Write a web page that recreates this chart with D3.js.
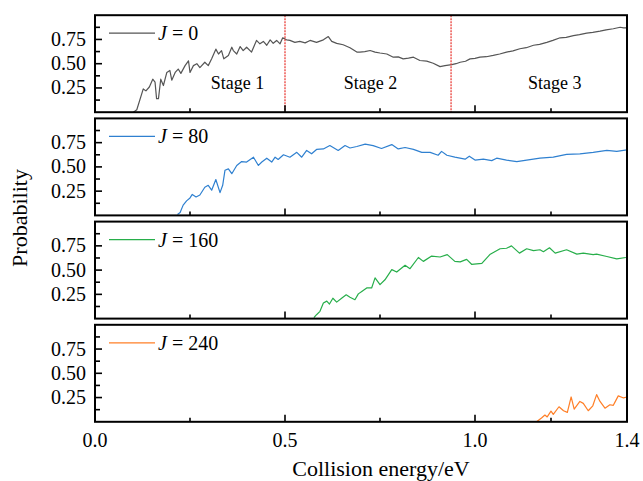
<!DOCTYPE html>
<html><head><meta charset="utf-8">
<script src="https://cdn.jsdelivr.net/npm/d3@7"></script>
<style>body{margin:0;background:#fff}svg{display:block}text{font-family:"Liberation Serif","Times New Roman",serif;fill:#000}</style>
</head><body>
<svg id="c" width="643" height="481"></svg>
<script>
const xTickLabels = [0.0, 0.5, 1.0, 1.4];
const xMinorTicks = [0.25, 0.75, 1.2];
const xMajorTicks = [0.5, 1.0];
const yTickLabels = [0.25, 0.5, 0.75];
const yMinorTicks = [0.125, 0.375, 0.625, 0.875];
const seriesNames = ["J = 0", "J = 80", "J = 160", "J = 240"];
const stageNames = ["Stage 1", "Stage 2", "Stage 3"];
const stageX = [0.375, 0.725, 1.21];
const stageBounds = [0.5, 0.937];

const e0 = [0.101,0.11,0.127,0.134,0.143,0.152,0.158,0.162,0.167,0.173,0.18,0.189,0.197,0.202,0.211,0.219,0.226,0.237,0.246,0.25,0.259,0.268,0.276,0.289,0.298,0.307,0.318,0.325,0.333,0.339,0.351,0.36,0.364,0.373,0.382,0.39,0.399,0.412,0.425,0.434,0.443,0.452,0.461,0.469,0.478,0.487,0.494,0.504,0.513,0.526,0.539,0.553,0.566,0.583,0.601,0.614,0.623,0.636,0.653,0.671,0.689,0.697,0.71,0.724,0.737,0.75,0.768,0.785,0.798,0.811,0.825,0.838,0.855,0.873,0.89,0.908,0.921,0.939,0.95,0.961,0.975,0.987,1.0,1.013,1.03,1.048,1.065,1.083,1.1,1.118,1.135,1.154,1.17,1.189,1.205,1.224,1.24,1.259,1.275,1.294,1.31,1.329,1.345,1.364,1.382,1.391,1.4];
const p0 = [0.0,0.025,0.24,0.22,0.26,0.34,0.31,0.14,0.14,0.34,0.275,0.41,0.43,0.33,0.41,0.445,0.40,0.48,0.53,0.41,0.48,0.50,0.46,0.515,0.48,0.55,0.65,0.60,0.635,0.55,0.585,0.67,0.635,0.60,0.677,0.635,0.67,0.62,0.74,0.705,0.73,0.69,0.745,0.71,0.74,0.705,0.767,0.746,0.74,0.72,0.73,0.715,0.74,0.72,0.746,0.78,0.73,0.71,0.695,0.665,0.62,0.62,0.625,0.636,0.62,0.61,0.60,0.567,0.57,0.55,0.558,0.567,0.533,0.526,0.505,0.47,0.48,0.49,0.50,0.515,0.525,0.55,0.555,0.567,0.572,0.585,0.60,0.62,0.632,0.654,0.665,0.69,0.70,0.72,0.74,0.767,0.772,0.79,0.80,0.815,0.822,0.835,0.848,0.86,0.876,0.87,0.87];

const e80 = [0.217,0.224,0.232,0.241,0.25,0.256,0.266,0.276,0.289,0.298,0.307,0.318,0.329,0.336,0.342,0.351,0.36,0.373,0.386,0.399,0.417,0.43,0.439,0.452,0.465,0.474,0.482,0.496,0.513,0.531,0.544,0.557,0.57,0.583,0.601,0.618,0.64,0.658,0.671,0.689,0.711,0.732,0.754,0.781,0.798,0.816,0.838,0.86,0.882,0.903,0.912,0.926,0.947,0.974,0.985,1.0,1.022,1.044,1.057,1.083,1.11,1.136,1.171,1.206,1.241,1.276,1.311,1.347,1.373,1.4];
const p80 = [0.01,0.03,0.106,0.15,0.18,0.216,0.19,0.21,0.29,0.31,0.26,0.37,0.235,0.31,0.465,0.48,0.43,0.515,0.555,0.55,0.60,0.515,0.55,0.59,0.55,0.60,0.577,0.625,0.60,0.65,0.60,0.67,0.635,0.68,0.685,0.72,0.67,0.72,0.695,0.71,0.735,0.72,0.69,0.73,0.685,0.70,0.68,0.65,0.65,0.62,0.66,0.62,0.60,0.58,0.61,0.57,0.58,0.565,0.59,0.57,0.555,0.57,0.59,0.60,0.63,0.635,0.65,0.67,0.66,0.675];

const e160 = [0.576,0.583,0.592,0.601,0.61,0.617,0.626,0.636,0.649,0.661,0.671,0.684,0.693,0.702,0.715,0.728,0.737,0.75,0.763,0.781,0.794,0.816,0.829,0.851,0.864,0.886,0.908,0.927,0.947,0.961,0.978,0.991,1.018,1.039,1.066,1.083,1.096,1.117,1.136,1.154,1.171,1.18,1.196,1.211,1.241,1.268,1.285,1.311,1.32,1.347,1.373,1.397];
const p160 = [0.01,0.04,0.075,0.16,0.18,0.15,0.21,0.17,0.21,0.245,0.22,0.195,0.255,0.28,0.316,0.316,0.42,0.35,0.40,0.505,0.48,0.55,0.515,0.63,0.59,0.645,0.635,0.66,0.59,0.585,0.61,0.56,0.57,0.66,0.72,0.725,0.75,0.675,0.72,0.70,0.71,0.69,0.73,0.675,0.71,0.665,0.675,0.66,0.665,0.64,0.615,0.63];

const e240 = [1.162,1.175,1.184,1.19,1.2,1.206,1.221,1.233,1.243,1.253,1.261,1.276,1.285,1.298,1.31,1.32,1.329,1.342,1.355,1.364,1.368,1.377,1.391,1.4];
const p240 = [0.0,0.04,0.07,0.05,0.11,0.076,0.155,0.114,0.097,0.256,0.13,0.21,0.19,0.114,0.165,0.28,0.21,0.14,0.176,0.17,0.20,0.267,0.246,0.256];

const colors = ["#555555", "#2f80d0", "#27ae4a", "#ff7f27"];
const seriesE = [e0, e80, e160, e240];
const seriesP = [p0, p80, p160, p240];

const svg = d3.select("#c");
const L = 95, R = 627, H = 97, step = 103.2, firstBottom = 112.2;
const x = d3.scaleLinear().domain([0, 1.4]).range([L, R]);

seriesNames.forEach((name, i) => {
  const bottom = firstBottom + i * step, top = bottom - H;
  const y = d3.scaleLinear().domain([0, 1]).range([bottom, top]);
  const g = svg.append("g");
  const clipId = "clip" + i;
  svg.append("clipPath").attr("id", clipId).append("rect").attr("x", L).attr("y", top).attr("width", R - L).attr("height", H);

  // data line
  const data = seriesE[i].map((e, k) => [e, seriesP[i][k]]);
  g.append("path").datum(data)
    .attr("clip-path", `url(#${clipId})`)
    .attr("fill", "none").attr("stroke", colors[i]).attr("stroke-width", 1.2)
    .attr("stroke-linejoin", "round")
    .attr("d", d3.line().x(d => x(d[0])).y(d => y(d[1])));

  // stage markers on first panel
  if (i === 0) {
    stageBounds.forEach(b => {
      g.append("line").attr("x1", x(b)).attr("x2", x(b)).attr("y1", top).attr("y2", bottom)
        .attr("stroke", "#e8302a").attr("stroke-width", 1.2).attr("stroke-dasharray", "2,1");
    });
    stageNames.forEach((s, k) => {
      g.append("text").attr("x", x(stageX[k])).attr("y", top + 74).attr("text-anchor", "middle")
        .attr("font-size", 18).text(s);
    });
  }

  // frame
  g.append("rect").attr("x", L).attr("y", top).attr("width", R - L).attr("height", H)
    .attr("fill", "none").attr("stroke", "#000").attr("stroke-width", 2);

  // y ticks (inward)
  yTickLabels.forEach(t => {
    g.append("line").attr("x1", L).attr("x2", L + 7).attr("y1", y(t)).attr("y2", y(t)).attr("stroke", "#000").attr("stroke-width", 1.6);
    g.append("text").attr("x", L - 9).attr("y", y(t) + 6.5).attr("text-anchor", "end").attr("font-size", 20).text(d3.format(".2f")(t));
  });
  yMinorTicks.forEach(t => {
    g.append("line").attr("x1", L).attr("x2", L + 5).attr("y1", y(t)).attr("y2", y(t)).attr("stroke", "#000").attr("stroke-width", 1.6);
  });
  // x ticks (inward, bottom)
  xMajorTicks.forEach(t => {
    g.append("line").attr("x1", x(t)).attr("x2", x(t)).attr("y1", bottom).attr("y2", bottom - 7).attr("stroke", "#000").attr("stroke-width", 1.6);
  });
  xMinorTicks.forEach(t => {
    g.append("line").attr("x1", x(t)).attr("x2", x(t)).attr("y1", bottom).attr("y2", bottom - 4).attr("stroke", "#000").attr("stroke-width", 1.6);
  });

  // legend
  g.append("line").attr("x1", 109).attr("x2", 155).attr("y1", top + 18).attr("y2", top + 18)
    .attr("stroke", colors[i]).attr("stroke-width", 1.3);
  const parts = name.split(" = ");
  const lt = g.append("text").attr("x", 158).attr("y", top + 25).attr("font-size", 20);
  lt.append("tspan").attr("font-style", "italic").text(parts[0]);
  lt.append("tspan").text(" = " + parts[1]);
});

// x tick labels
xTickLabels.forEach(t => {
  svg.append("text").attr("x", x(t)).attr("y", 447).attr("text-anchor", "middle").attr("font-size", 20).text(d3.format(".1f")(t));
});

svg.append("text").attr("x", 381).attr("y", 476).attr("text-anchor", "middle").attr("font-size", 22).text("Collision energy/eV");
svg.append("text").attr("transform", "translate(27,218) rotate(-90)").attr("text-anchor", "middle").attr("font-size", 22).text("Probability");
</script>
</body></html>
